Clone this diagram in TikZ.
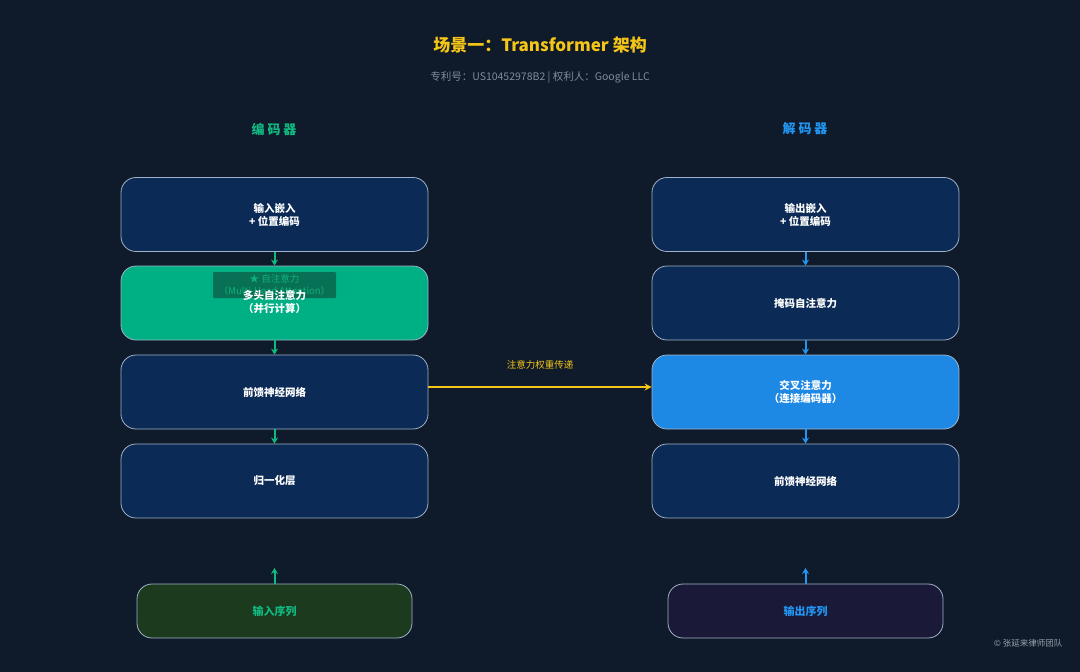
\documentclass[tikz,border=0pt]{standalone}
\usepackage{fontspec}
\setmainfont{Noto Sans CJK SC}
\usetikzlibrary{arrows.meta}
\definecolor{bg}{HTML}{0F1A2A}
\definecolor{boxblue}{HTML}{0B2A55}
\definecolor{edge}{HTML}{9FB3C8}
\definecolor{grn}{HTML}{00B085}
\definecolor{grntxt}{HTML}{10B981}
\definecolor{xblue}{HTML}{1E88E5}
\definecolor{bluetxt}{HTML}{2196F3}
\definecolor{ylw}{HTML}{F5C518}
\definecolor{subgray}{HTML}{7F8C9C}
\definecolor{ingreen}{HTML}{1B3A1E}
\definecolor{outpurple}{HTML}{1A1A38}
\definecolor{tagbg}{HTML}{0A6048}
\tikzset{
  layer/.style={draw=edge, line width=0.8pt, rounded corners=15pt, minimum width=307pt, minimum height=74pt, fill=boxblue, text=white, font=\bfseries\fontsize{10.5}{13}\selectfont, align=center, inner sep=0pt},
  seqbox/.style={draw=edge, line width=0.8pt, rounded corners=15pt, minimum width=275pt, minimum height=54pt, font=\bfseries\fontsize{11}{13}\selectfont, inner sep=0pt},
  garrow/.style={draw=grntxt, line width=2pt, -{Stealth[length=6pt,width=7pt]}},
  barrow/.style={draw=bluetxt, line width=2pt, -{Stealth[length=6pt,width=7pt]}},
  header/.style={font=\bfseries\fontsize{13}{15}\selectfont},
}
\begin{document}
\begin{tikzpicture}[x=1pt,y=-1pt]
\path[fill=bg] (0,0) rectangle (1080,672);
\useasboundingbox (0,0) rectangle (1080,672);
\node[text=ylw, font=\bfseries\fontsize{17}{20}\selectfont] (title) at (540,45) {场景一：Transformer 架构};
\node[text=subgray, font=\fontsize{10.5}{12}\selectfont] (sub) at (540,78) {专利号：US10452978B2 | 权利人：Google LLC};
\node[header, text=grntxt] (ench) at (274,129) {编 码 器};
\node[header, text=bluetxt] (dech) at (805,129) {解 码 器};
% encoder
\node[layer] (e1) at (274.5,214.5) {输入嵌入\\+ 位置编码};
\node[layer, fill=grn] (e2) at (274.5,303) {};
\node[layer] (e3) at (274.5,392) {前馈神经网络};
\node[layer] (e4) at (274.5,481) {归一化层};
\node[seqbox, fill=ingreen, text=grntxt] (ein) at (274.5,611) {输入序列};
% decoder
\node[layer] (d1) at (805.5,214.5) {输出嵌入\\+ 位置编码};
\node[layer] (d2) at (805.5,303) {掩码自注意力};
\node[layer, fill=xblue] (d3) at (805.5,392) {交叉注意力\\（连接编码器）};
\node[layer] (d4) at (805.5,481) {前馈神经网络};
\node[seqbox, fill=outpurple, text=bluetxt] (din) at (805.5,611) {输出序列};
% tag overlay
\node[fill=tagbg, fill opacity=0.8, text opacity=0.9, text=grntxt, minimum width=123pt, minimum height=26pt, inner sep=0pt, align=center, font=\fontsize{9.5}{12}\selectfont, rounded corners=1pt] (tag) at (274.5,285) {★ 自注意力\\（Multi-Head Attention）};
\node[text=white, font=\bfseries\fontsize{10.5}{13}\selectfont, align=center] (e2t) at (274.5,302) {多头自注意力\\（并行计算）};
% arrows
\draw[garrow] (e1.south) -- (e2.north);
\draw[garrow] (e2.south) -- (e3.north);
\draw[garrow] (e3.south) -- (e4.north);
\coordinate (eup) at (274.5,568);
\coordinate (dup) at (805.5,568);
\draw[garrow] (ein.north) -- (eup);
\draw[barrow] (d1.south) -- (d2.north);
\draw[barrow] (d2.south) -- (d3.north);
\draw[barrow] (d3.south) -- (d4.north);
\draw[barrow] (din.north) -- (dup);
\draw[draw=ylw, line width=2.2pt, -{Stealth[length=7pt,width=7pt]}] ([yshift=5pt]e3.east) -- node[above=13pt, text=ylw, font=\fontsize{9.5}{11}\selectfont] (lbl) {注意力权重传递} ([yshift=5pt]d3.west);
\node[text=subgray!80, font=\fontsize{8.5}{10}\selectfont, anchor=east] (copy) at (1066,643) {© 张延来律师团队};
\end{tikzpicture}
\end{document}
